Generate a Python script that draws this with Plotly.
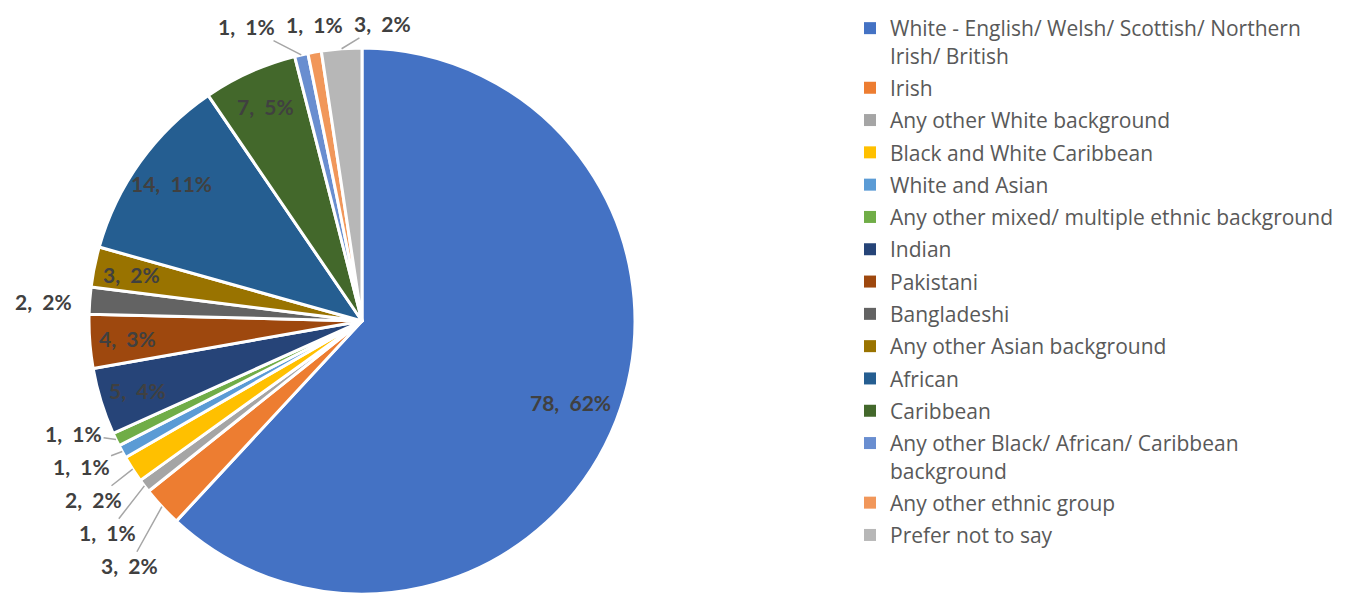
import math
import plotly.graph_objects as go

# ---------------- data ----------------
categories = [
    "White - English/ Welsh/ Scottish/ Northern<br>Irish/ British",
    "Irish",
    "Any other White background",
    "Black and White Caribbean",
    "White and Asian",
    "Any other mixed/ multiple ethnic background",
    "Indian",
    "Pakistani",
    "Bangladeshi",
    "Any other Asian background",
    "African",
    "Caribbean",
    "Any other Black/ African/ Caribbean<br>background",
    "Any other ethnic group",
    "Prefer not to say",
]
counts = [78, 3, 1, 2, 1, 1, 5, 4, 2, 3, 14, 7, 1, 1, 3]
percent_labels = [62, 2, 1, 2, 1, 1, 4, 3, 2, 2, 11, 5, 1, 1, 2]

colors = [
    "#4472C4", "#ED7D31", "#A5A5A5", "#FFC000", "#5B9BD5", "#70AD47",
    "#264478", "#9E480E", "#636363", "#997300", "#255E91", "#43682B",
    "#698ED0", "#F1975A", "#B7B7B7",
]

# ---------------- layout geometry ----------------
W, H = 1353, 594
OFF = 8  # default page body margin: page px = figure px + OFF
PIE_LEFT, PIE_TOP, PIE_SIZE = 89, 48, 546  # in page pixels
CX = PIE_LEFT + PIE_SIZE / 2
CY = PIE_TOP + PIE_SIZE / 2
R = PIE_SIZE / 2

LABEL_FONT = dict(family="Lato", size=21, color="#404040", weight="bold")
LABEL_H = 18
V_SPACING = 33
OUT_GAP = 18
OUT_DY = 4
LINE_COLOR = "#A6A6A6"

label_texts = [f"{c},\u00a0\u00a0{p}%" for c, p in zip(counts, percent_labels)]


def text_w(s):
    n = len(s.replace(" ", "").replace("\u00a0", ""))
    return 11.5 * n + 10


def pt(a, d):
    return CX + d * math.sin(a), CY - d * math.cos(a)


def ang(x, y):
    return math.atan2(x - CX, CY - y) % (2 * math.pi)


total = sum(counts)
info = []
cum = 0
for c, t in zip(counts, label_texts):
    a0 = cum / total * 2 * math.pi
    cum += c
    a1 = cum / total * 2 * math.pi
    info.append(dict(a0=a0, a1=a1, am=(a0 + a1) / 2, w=text_w(t), h=LABEL_H, text=t))


def fits(inf, d):
    x, y = pt(inf["am"], d)
    for sx in (-1, 1):
        for sy in (-1, 1):
            px, py = x + sx * inf["w"] / 2, y + sy * inf["h"] / 2
            if math.hypot(px - CX, py - CY) > R:
                return False
            a = ang(px, py)
            if not (inf["a0"] <= a <= inf["a1"]):
                return False
    return True


for inf in info:
    inf["inside"] = False
    for f in (0.86, 0.82, 0.78):
        if fits(inf, f * R):
            inf["inside"] = True
            inf["x"], inf["y"] = pt(inf["am"], f * R)
            break
    if not inf["inside"]:
        s, c = abs(math.sin(inf["am"])), abs(math.cos(inf["am"]))
        ext = s * inf["w"] / 2 + c * inf["h"] / 2
        x, y = pt(inf["am"], R + OUT_GAP + ext)
        inf["x"], inf["y"] = x, y + OUT_DY

# group colliding outside labels
outs = [i for i, inf in enumerate(info) if not inf["inside"]]
parent = {i: i for i in outs}


def find(i):
    while parent[i] != i:
        i = parent[i]
    return i


for ii in range(len(outs)):
    for jj in range(ii + 1, len(outs)):
        a, b = info[outs[ii]], info[outs[jj]]
        if abs(a["x"] - b["x"]) < (a["w"] + b["w"]) / 2 + 10 and abs(a["y"] - b["y"]) < V_SPACING:
            parent[find(outs[ii])] = find(outs[jj])

groups = {}
for i in outs:
    groups.setdefault(find(i), []).append(i)

for g in groups.values():
    for i in g:
        info[i]["grouped"] = len(g) > 1
    if len(g) < 2:
        continue
    sx = sum(math.sin(info[i]["am"]) for i in g)
    cx = sum(math.cos(info[i]["am"]) for i in g)
    if abs(sx) > abs(cx):
        g_sorted = sorted(g, key=lambda i: info[i]["y"])
        mean = sum(info[i]["y"] for i in g) / len(g)
        for k, i in enumerate(g_sorted):
            info[i]["y"] = mean + (k - (len(g) - 1) / 2) * V_SPACING
    else:
        g_sorted = sorted(g, key=lambda i: info[i]["x"])
        mean = sum(info[i]["x"] for i in g) / len(g)
        sp = max(info[i]["w"] for i in g) + 12
        for k, i in enumerate(g_sorted):
            info[i]["x"] = mean + (k - (len(g) - 1) / 2) * sp


def px2paper(x, y):
    return (x - OFF) / W, 1 - (y - OFF) / H


annotations = []
for inf in info:
    if inf["inside"]:
        x, y = px2paper(inf["x"], inf["y"])
        annotations.append(dict(x=x, y=y, xref="paper", yref="paper", text=inf["text"],
                                showarrow=False, font=LABEL_FONT,
                                xanchor="center", yanchor="middle"))
        continue
    axp, ayp = pt(inf["am"], R)
    dist = math.hypot(inf["x"] - axp, inf["y"] - ayp)
    if inf.get("grouped") and dist > 37:
        x, y = px2paper(axp, ayp)
        annotations.append(dict(x=x, y=y, xref="paper", yref="paper", text=inf["text"],
                                showarrow=True, arrowhead=0, arrowwidth=1.5,
                                arrowcolor=LINE_COLOR, standoff=0,
                                ax=inf["x"] - axp, ay=inf["y"] - ayp,
                                font=LABEL_FONT))
    else:
        x, y = px2paper(inf["x"], inf["y"])
        annotations.append(dict(x=x, y=y, xref="paper", yref="paper", text=inf["text"],
                                showarrow=False, font=LABEL_FONT,
                                xanchor="center", yanchor="middle"))

fig = go.Figure()
fig.add_trace(
    go.Pie(
        labels=categories,
        values=counts,
        sort=False,
        direction="clockwise",
        rotation=0,
        marker=dict(colors=colors, line=dict(color="white", width=3)),
        textinfo="none",
        showlegend=False,
        domain=dict(x=[(PIE_LEFT - OFF) / W, (PIE_LEFT - OFF + PIE_SIZE) / W],
                    y=[1 - (PIE_TOP - OFF + PIE_SIZE) / H, 1 - (PIE_TOP - OFF) / H]),
        hoverinfo="label+value+percent",
    )
)

# legend entries (one per category, same colours as the slices)
for k, (cat, col) in enumerate(zip(categories, colors)):
    fig.add_trace(
        go.Scatter(
            x=[None], y=[None], mode="markers", name=cat,
            marker=dict(symbol="square", size=12, color=col),
            legendgroup=f"g{k}", showlegend=True, hoverinfo="skip",
        )
    )

fig.update_layout(
    width=W,
    height=H,
    margin=dict(l=0, r=0, t=0, b=0),
    paper_bgcolor="white",
    plot_bgcolor="white",
    showlegend=True,
    xaxis=dict(visible=False),
    yaxis=dict(visible=False),
    legend=dict(
        x=(890 - 40 - OFF) / W, y=1, xanchor="left", yanchor="top",
        font=dict(family="Open Sans", size=21, color="#595959"),
        valign="top",
        maxheight=H,
        tracegroupgap=2,
        traceorder="grouped",
        bgcolor="rgba(0,0,0,0)",
    ),
    annotations=annotations,
)

fig.write_html("out.html")
